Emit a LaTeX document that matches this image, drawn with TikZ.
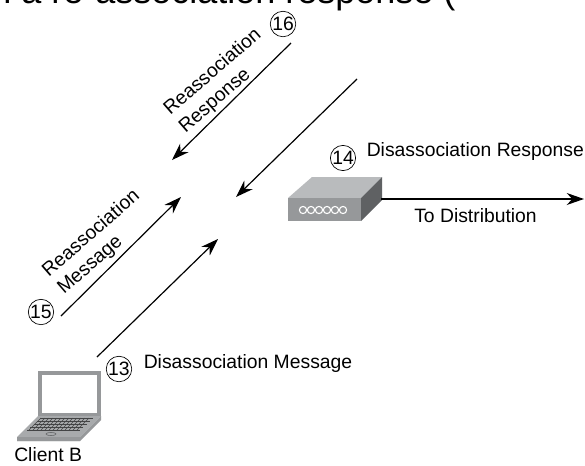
\documentclass[tikz,border=0pt]{standalone}
\usepackage{fontspec}
\setmainfont{Liberation Sans}
\usepackage{xcolor}
\usetikzlibrary{arrows.meta}
\definecolor{boxtop}{HTML}{B9BBBD}
\definecolor{boxfront}{HTML}{96989A}
\definecolor{boxside}{HTML}{5F6163}
\definecolor{padgray}{HTML}{A8AAAC}
\tikzset{
    msg/.style={-{Stealth[length=13pt,width=9pt]}, line width=0.9pt},
    step num/.style={circle, draw, line width=0.5pt, inner sep=0pt, minimum size=18pt, font=\fontsize{14.5}{14.5}\selectfont},
    lab/.style={font=\fontsize{14.5}{17.25}\selectfont, inner sep=0pt},
    slant/.style={lab, align=left, anchor=west, rotate=41}
}
\begin{document}
\begin{tikzpicture}[x=0.75pt, y=-0.75pt]
    \clip (0,0) rectangle (585,465);
    % clipped line of the slide above
    \node (title) [anchor=base west, inner sep=0pt, font=\fontsize{27}{27}\selectfont] at (-9,3.5) {n a re-association response (};

    % access point
    \fill[boxtop] (288,198) -- (312,177) -- (382,177) -- (361,198) -- cycle;
    \fill[boxside] (361,198) -- (382,177) -- (382,200) -- (361,221) -- cycle;
    \node (ap) [fill=boxfront, minimum width=54.75pt, minimum height=17.25pt, inner sep=0pt] at (324.5,209.5) {};
    \foreach \x in {0,...,5}
        \draw[white, line width=0.8pt] (\x*8+303,210) circle (3.6);
    \coordinate (apright) at (381,199);
    \coordinate (apend) at (584,199);
    \draw[msg] (apright) -- (apend);

    % client laptop
    \node (screen) [fill=white, draw=boxfront, line width=3pt, minimum width=44pt, minimum height=32pt, inner sep=0pt] at (69.5,394) {};
    \fill[padgray] (38,416) -- (101,416) -- (80,437) -- (80,441) -- (17,441) -- (17,437) -- cycle;
    \fill[boxfront] (17,437) -- (80,437) -- (101,416) -- (101,420) -- (80,441) -- (17,441) -- cycle;
    \foreach \y in {0,...,4}
        \draw[boxside!70!black, line width=0.4pt] (40-\y*3.2,418+\y*3) -- (93-\y*3.2,418+\y*3);
    \foreach \x in {0,...,12}
        \draw[boxside!70!black, line width=0.4pt] (41+\x*4,418) -- (29+\x*4,430);
    \draw[boxside, line width=0.4pt] (51,434) ellipse (5 and 1.6);

    % messages
    \coordinate (m16a) at (291,43);
    \coordinate (m16b) at (172,160);
    \coordinate (m14a) at (357,79);
    \coordinate (m14b) at (236,197);
    \coordinate (m15a) at (61,316);
    \coordinate (m15b) at (181,197);
    \coordinate (m13a) at (97,357);
    \coordinate (m13b) at (218,239);
    \draw[msg] (m16a) -- (m16b);
    \draw[msg] (m14a) -- (m14b);
    \draw[msg] (m15a) -- (m15b);
    \draw[msg] (m13a) -- (m13b);

    \node (n16) [step num] at (283,24) {16};
    \node (n14) [step num] at (343,158) {14};
    \node (n15) [step num] at (41,312) {15};
    \node (n13) [step num] at (119,369) {13};

    \node (l16) [slant] at (174.5,121) {Reassociation\\Response};
    \node (l15) [slant] at (53,282.5) {Reassociation\\Message};
    \node (l14) [lab, anchor=base west] at (366.5,156) {Disassociation Response};
    \node (l13) [lab, anchor=base west] at (143.5,368) {Disassociation Message};
    \node (ldist) [lab, anchor=base west] at (414,222) {To Distribution};
    \node (lclient) [lab, anchor=base west] at (14,461) {Client B};
\end{tikzpicture}
\end{document}
